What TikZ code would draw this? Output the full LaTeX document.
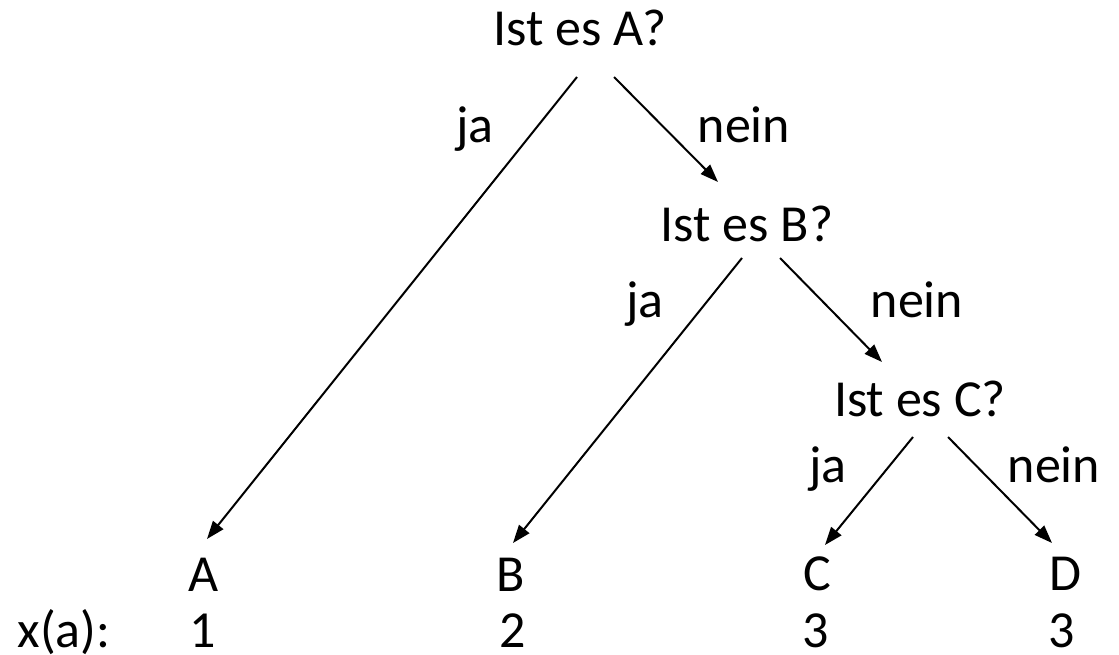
\documentclass[tikz,border=0pt]{standalone}
\usepackage{fontspec}
\setmainfont{Carlito}
\usetikzlibrary{arrows.meta}

\begin{document}
\begin{tikzpicture}[x=1pt,y=1pt,line width=2pt,
  every node/.style={font=\fontsize{52}{60}\selectfont,anchor=base,inner sep=0pt},
  arr/.style={-{Triangle[length=18pt,width=13pt]}}]
\useasboundingbox (0,0) rectangle (1119,-654);
% questions
\node (qA) at (580,-45) {Ist es A?};
\node (qB) at (747,-241) {Ist es B?};
\node (qC) at (920,-416) {Ist es C?};
% leaves and code lengths
\node (lA) at (204,-591) {A};
\node (lB) at (511,-591) {B};
\node (lC) at (817,-590) {C};
\node (lD) at (1065,-590) {D};
\node (xa) at (64,-647) {x(a):};
\node (v1) at (203,-647) {1};
\node (v2) at (513,-647) {2};
\node (v3) at (816,-647) {3};
\node (v4) at (1062,-647) {3};
% edges
\draw[arr] ([shift={(-3,-32)}]qA.base) -- ([shift={(3,52)}]lA.base);
\draw[arr] ([shift={(34,-32)}]qA.base) -- ([shift={(-29,59)}]qB.base);
\draw[arr] ([shift={(-5,-17)}]qB.base) -- ([shift={(2,48)}]lB.base);
\draw[arr] ([shift={(33,-17)}]qB.base) -- ([shift={(-38,54)}]qC.base);
\draw[arr] ([shift={(-7,-21)}]qC.base) -- ([shift={(8,45)}]lC.base);
\draw[arr] ([shift={(28,-21)}]qC.base) -- ([shift={(-13,47)}]lD.base);
% edge labels
\node (jaA) at (475,-142) {ja};
\node (neinA) at (744,-142) {nein};
\node (jaB) at (645,-317) {ja};
\node (neinB) at (917,-317) {nein};
\node (jaC) at (828,-482) {ja};
\node (neinC) at (1054,-482) {nein};
\end{tikzpicture}
\end{document}
